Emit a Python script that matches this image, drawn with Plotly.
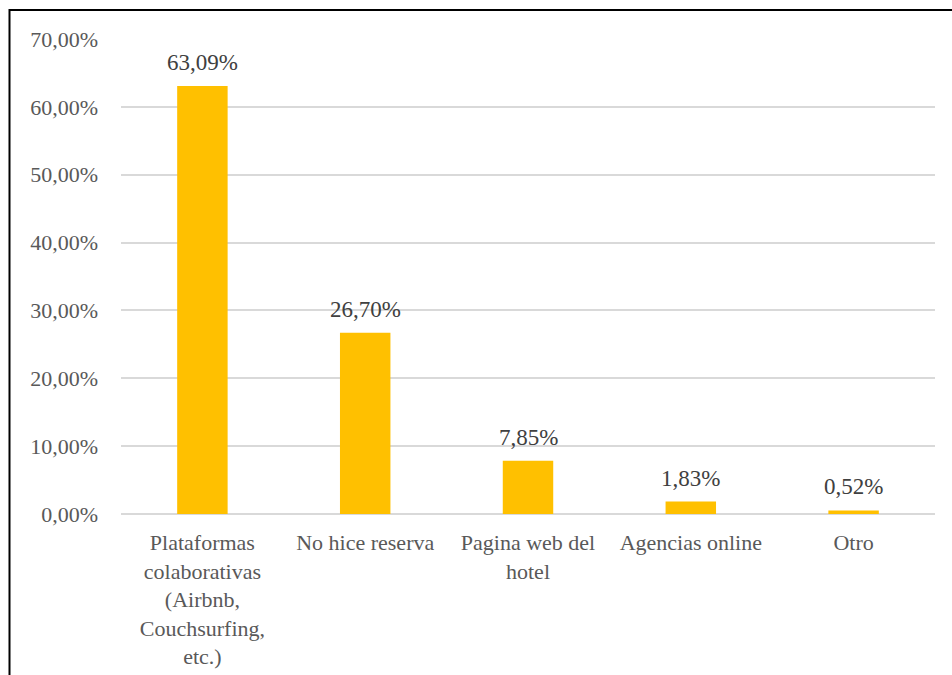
import plotly.graph_objects as go

# Booking channel shares (%)
categories = [
    "Plataformas<br>colaborativas<br>(Airbnb,<br>Couchsurfing,<br>etc.)",
    "No hice reserva",
    "Pagina web del<br>hotel",
    "Agencias online",
    "Otro",
]
values = [63.09, 26.70, 7.85, 1.83, 0.52]
tick_values = [0, 10, 20, 30, 40, 50, 60, 70]
tick_labels = ["0,00%", "10,00%", "20,00%", "30,00%", "40,00%", "50,00%", "60,00%", "70,00%"]

W, H = 952, 675
L, R, T, B = 121, 17, 39, 161
plot_w = W - L - R
plot_h = H - T - B

FONT = "Liberation Serif"

fig = go.Figure(
    go.Bar(
        x=categories,
        y=values,
        marker=dict(color="#FFC000", line=dict(width=0)),
        width=0.31,
        hoverinfo="skip",
    )
)

# value labels above each bar
for c, v in zip(categories, values):
    fig.add_annotation(
        x=c,
        y=v,
        text=f"{v:.2f}%".replace(".", ","),
        showarrow=False,
        yanchor="bottom",
        yshift=9,
        font=dict(family=FONT, size=23, color="#404040"),
    )

fig.update_layout(
    width=W,
    height=H,
    margin=dict(l=L, r=R, t=T, b=B),
    paper_bgcolor="white",
    plot_bgcolor="white",
    showlegend=False,
    font=dict(family=FONT, size=22, color="#595959"),
    xaxis=dict(
        showgrid=False,
        showline=False,
        ticks="",
        tickangle=0,
        automargin=False,
        ticklabelstandoff=13,
        tickfont=dict(family=FONT, size=22, color="#595959"),
    ),
    yaxis=dict(
        range=[0, 70],
        tickvals=tick_values,
        ticktext=tick_labels,
        showgrid=True,
        gridcolor="#D9D9D9",
        gridwidth=1.5,
        zeroline=True,
        zerolinecolor="#D9D9D9",
        zerolinewidth=1.5,
        showline=False,
        ticks="",
        automargin=False,
        ticklabelstandoff=22,
        tickfont=dict(family=FONT, size=22, color="#595959"),
    ),
    shapes=[
        dict(
            type="rect",
            xref="paper",
            yref="paper",
            x0=(9.5 - L) / plot_w,
            x1=(W + 20 - L) / plot_w,
            y0=-(H + 20 - T - plot_h) / plot_h,
            y1=(T + plot_h - 10) / plot_h,
            line=dict(color="black", width=2),
            fillcolor="rgba(0,0,0,0)",
            layer="above",
        )
    ],
)

fig.write_html("out.html")
